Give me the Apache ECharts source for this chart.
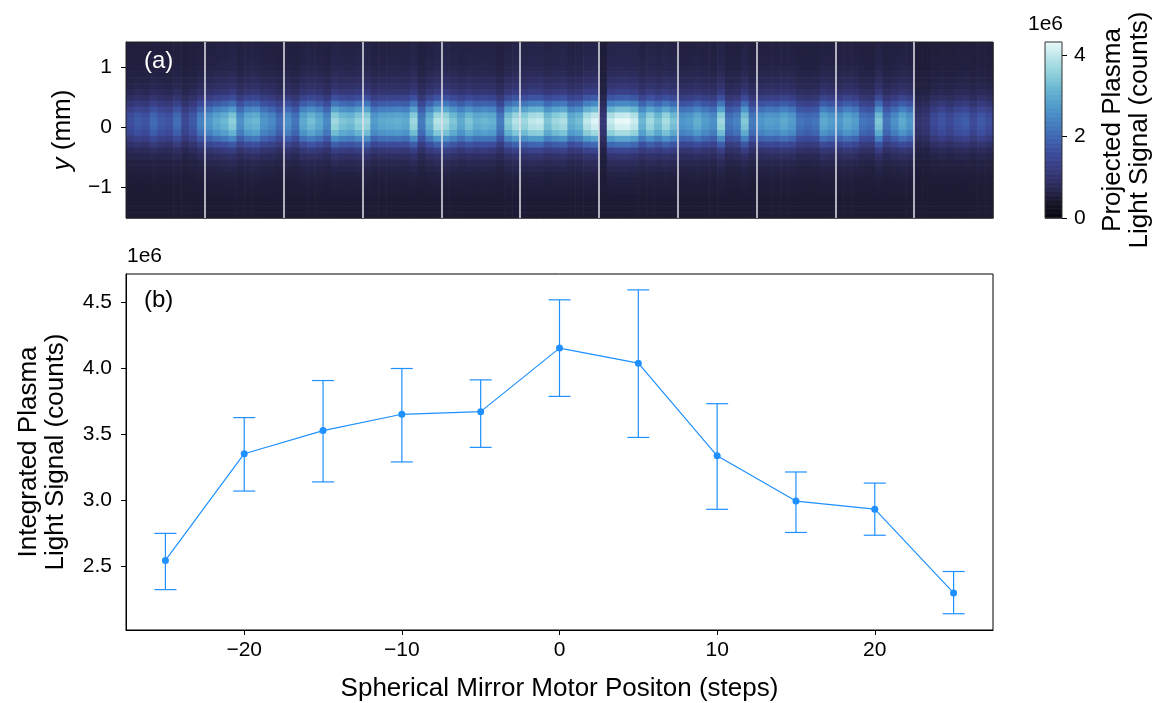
<!DOCTYPE html>
<html><head><meta charset="utf-8">
<script src="https://cdn.jsdelivr.net/npm/echarts@6/dist/echarts.min.js"></script>
<style>html,body{margin:0;padding:0;background:#fff}#c{width:1152px;height:703px}</style>
</head><body><div id="c"></div>
<script>
// ---------- data (signal values in units of 1e6 counts) ----------
const positions = [-25, -20, -15, -10, -5, 0, 5, 10, 15, 20, 25];
const signal    = [2.546, 3.352, 3.527, 3.650, 3.670, 4.150, 4.036, 3.336, 2.994, 2.933, 2.300];
const errLow    = [2.325, 3.070, 3.139, 3.290, 3.400, 3.785, 3.475, 2.932, 2.757, 2.736, 2.143];
const errHigh   = [2.750, 3.625, 3.905, 3.996, 3.910, 4.515, 4.590, 3.730, 3.214, 3.130, 2.462];
const xTicks = [-20, -10, 0, 10, 20];
const yTicks = [2.5, 3.0, 3.5, 4.0, 4.5];
const imgYTicks = [-1, 0, 1];
const cbarTicks = [0, 2, 4];

// projected image: peak value (centre row) of each image column, 10 columns per motor position
const colPeak = [
  [1.6, 1.8, 1.7, 2.05, 1.8, 1.7, 2.1, 1.5, 1.8, 2.4],
  [2.7, 3.0, 3.2, 3.55, 2.6, 3.1, 3.2, 2.7, 2.5, 2.1],
  [2.6, 2.2, 3.0, 3.3, 3.0, 2.5, 3.7, 3.4, 3.3, 3.6],
  [3.7, 2.8, 3.0, 3.05, 3.1, 3.0, 3.7, 2.3, 3.2, 3.9],
  [3.8, 3.4, 3.0, 3.4, 3.1, 3.2, 3.1, 2.3, 3.5, 3.9],
  [3.7, 4.0, 4.05, 3.4, 3.7, 3.85, 3.1, 3.3, 4.0, 4.25],
  [1.1, 4.05, 4.3, 4.32, 4.1, 3.2, 3.75, 3.35, 3.8, 3.4],
  [2.7, 2.8, 3.1, 2.8, 2.6, 3.7, 2.2, 2.4, 3.45, 2.3],
  [2.7, 2.85, 2.8, 3.0, 2.8, 2.2, 2.1, 2.2, 3.0, 2.8],
  [2.7, 3.0, 2.8, 2.2, 2.1, 3.4, 2.2, 2.6, 3.0, 2.7],
  [1.0, 1.1, 1.5, 1.7, 1.5, 1.75, 1.85, 1.55, 1.8, 1.6]
];
// vertical position of image rows (mm) and relative vertical profile of the light
const rowY = [1.371, 1.273, 1.175, 1.077, 0.979, 0.881, 0.783, 0.685, 0.587, 0.489, 0.391, 0.293, 0.195, 0.097, -0.001,
              -0.099, -0.197, -0.295, -0.393, -0.491, -0.589, -0.687, -0.785, -0.883, -0.981, -1.079, -1.177, -1.275, -1.373, -1.471];
const rowProfile = [0.05, 0.05, 0.055, 0.06, 0.07, 0.09, 0.12, 0.16, 0.22, 0.35, 0.53, 0.74, 0.93, 1.0, 0.96,
                    0.86, 0.64, 0.42, 0.25, 0.15, 0.09, 0.06, 0.04, 0.025, 0.015, 0.01, 0.0, 0.0, 0.0, 0.0];
const background = 0.5;
const cbarMax = 4.32;

// ---------- build ----------
const ROW_H = 0.098;
const nSeg = colPeak.length, perSeg = colPeak[0].length, nCols = nSeg * perSeg;
const heat = [];
colPeak.forEach((seg, s) => seg.forEach((pk, c) => {
  rowY.forEach((y, r) => heat.push([s * perSeg + c, y, background + (pk - background) * rowProfile[r]]));
}));
const cbarStep = 0.02, cbar = [];
for (let v = 0; v < cbarMax; v += cbarStep) cbar.push([0, v, v + cbarStep / 2]);
const segLines = [];
for (let s = 1; s < nSeg; s++) segLines.push({ xAxis: s * perSeg });

const FONT = "'Liberation Sans', Arial, sans-serif";
const TICK_FS = 21, NAME_FS = 26;
const minus = v => (v < 0 ? '\u2212' + (-v) : String(v));
const tickStyle = () => ({ show: true, length: 5, lineStyle: { color: '#000', width: 1 } });
const axLine = () => ({ show: true, onZero: false, lineStyle: { color: '#000', width: 1 } });
const lab = () => ({ color: '#000', fontSize: TICK_FS, fontFamily: FONT });
const nameSt = (extra) => Object.assign({ fontSize: NAME_FS, fontFamily: FONT, color: '#000' }, extra || {});
const blue = '#1e90ff';

const chart = echarts.init(document.getElementById('c'), null, { renderer: 'canvas' });
chart.setOption({
  animation: false,
  backgroundColor: '#fff',
  grid: [
    { left: 126, top: 42, width: 867, height: 176, show: true, borderColor: '#222', borderWidth: 1, backgroundColor: 'transparent', z: 5, outerBoundsMode: 'none', containLabel: false },
    { left: 1045, top: 42, width: 17, height: 176, show: true, borderColor: '#333', borderWidth: 1, backgroundColor: 'transparent', z: 5, outerBoundsMode: 'none', containLabel: false },
    { left: 126, top: 274, width: 867, height: 356, show: true, borderColor: '#000', borderWidth: 1, outerBoundsMode: 'none', containLabel: false }
  ],
  xAxis: [
    { gridIndex: 0, type: 'value', min: 0, max: nCols, axisLine: { show: false }, axisTick: { show: false }, axisLabel: { show: false }, splitLine: { show: false } },
    { gridIndex: 1, type: 'value', min: 0, max: 1, show: false },
    { gridIndex: 2, type: 'value', min: -27.5, max: 27.5, axisLine: axLine(),
      axisTick: Object.assign({ customValues: xTicks }, tickStyle()),
      axisLabel: Object.assign({ customValues: xTicks, formatter: minus, margin: 10 }, lab()),
      splitLine: { show: false },
      name: 'Spherical Mirror Motor Positon (steps)', nameLocation: 'middle', nameGap: 46,
      nameTextStyle: nameSt() }
  ],
  yAxis: [
    { gridIndex: 0, type: 'value', min: -1.52, max: 1.42, axisLine: axLine(),
      axisTick: Object.assign({ customValues: imgYTicks }, tickStyle()),
      axisLabel: Object.assign({ customValues: imgYTicks, formatter: minus, margin: 14 }, lab()),
      splitLine: { show: false },
      name: '{i|y} (mm)', nameLocation: 'middle', nameGap: 50, nameRotate: 90,
      nameTextStyle: nameSt({ rich: { i: { fontStyle: 'italic', fontSize: NAME_FS, fontFamily: FONT, color: '#000' } } }) },
    { gridIndex: 1, type: 'value', min: 0, max: cbarMax, position: 'right', axisLine: { show: false, onZero: false },
      axisTick: Object.assign({ customValues: cbarTicks }, tickStyle()),
      axisLabel: Object.assign({ customValues: cbarTicks, margin: 12 }, lab()),
      splitLine: { show: false },
      name: 'Projected Plasma\nLight Signal (counts)', nameLocation: 'middle', nameGap: 37, nameRotate: 90,
      nameTextStyle: nameSt({ lineHeight: 27 }) },
    { gridIndex: 2, type: 'value', min: 2.02, max: 4.71, axisLine: axLine(),
      axisTick: Object.assign({ customValues: yTicks }, tickStyle()),
      axisLabel: Object.assign({ customValues: yTicks, formatter: v => v.toFixed(1), margin: 14 }, lab()),
      splitLine: { show: false },
      name: 'Integrated Plasma\nLight Signal (counts)', nameLocation: 'middle', nameGap: 57, nameRotate: 90,
      nameTextStyle: nameSt({ lineHeight: 27 }) }
  ],
  visualMap: {
    type: 'continuous', show: false, min: 0, max: cbarMax, dimension: 2, seriesIndex: [0, 1],
    inRange: { color: ['#05060f', '#171628', '#2b2a58', '#373a7c', '#3c4b9a', '#3f64b0', '#4580c0', '#509acb', '#66b3d1', '#8ccfd9', '#b7e3e8', '#e8f8f9'] }
  },
  series: [
    { type: 'custom', xAxisIndex: 0, yAxisIndex: 0, data: heat, encode: { x: 0, y: 1 }, silent: true,
      renderItem: (p, api) => {
        const tl = api.coord([api.value(0), api.value(1) + ROW_H / 2]);
        const s = api.size([1, ROW_H]);
        return { type: 'rect', shape: { x: tl[0], y: tl[1], width: s[0] + 0.6, height: s[1] + 0.6 }, style: { fill: api.visual('color') } };
      } },
    { type: 'custom', xAxisIndex: 1, yAxisIndex: 1, data: cbar, encode: { x: 0, y: 1 }, silent: true,
      renderItem: (p, api) => {
        const tl = api.coord([0, api.value(1) + cbarStep]);
        const s = api.size([1, cbarStep]);
        return { type: 'rect', shape: { x: tl[0], y: tl[1], width: s[0], height: s[1] + 0.6 }, style: { fill: api.visual('color') } };
      } },
    { type: 'line', xAxisIndex: 0, yAxisIndex: 0, data: [], silent: true,
      markLine: { silent: true, symbol: 'none', label: { show: false }, data: segLines,
        lineStyle: { color: '#e2e2ea', width: 1.5, type: 'solid' } } },
    { type: 'custom', xAxisIndex: 2, yAxisIndex: 2, silent: true,
      data: positions.map((x, i) => [x, errLow[i], errHigh[i]]), encode: { x: 0, y: [1, 2] },
      renderItem: (p, api) => {
        const lo = api.coord([api.value(0), api.value(1)]);
        const hi = api.coord([api.value(0), api.value(2)]);
        const w = 11, st = { stroke: blue, lineWidth: 1.2 };
        return { type: 'group', children: [
          { type: 'line', shape: { x1: lo[0], y1: lo[1], x2: hi[0], y2: hi[1] }, style: st },
          { type: 'line', shape: { x1: lo[0] - w, y1: lo[1], x2: lo[0] + w, y2: lo[1] }, style: st },
          { type: 'line', shape: { x1: hi[0] - w, y1: hi[1], x2: hi[0] + w, y2: hi[1] }, style: st }
        ] };
      } },
    { type: 'line', xAxisIndex: 2, yAxisIndex: 2, data: positions.map((x, i) => [x, signal[i]]),
      symbol: 'circle', symbolSize: 7, showSymbol: true, z: 4,
      lineStyle: { color: blue, width: 1.2 }, itemStyle: { color: blue } }
  ],
  graphic: [
    { type: 'text', left: 144, top: 49, z: 100, style: { text: '(a)', fill: '#fff', fontSize: 24, fontFamily: FONT } },
    { type: 'text', left: 144, top: 288, z: 100, style: { text: '(b)', fill: '#000', fontSize: 24, fontFamily: FONT } },
    { type: 'text', left: 127, top: 246, style: { text: '1e6', fill: '#000', fontSize: TICK_FS, fontFamily: FONT } },
    { type: 'text', right: 1152 - 1063, top: 14, style: { text: '1e6', fill: '#000', fontSize: TICK_FS, fontFamily: FONT } }
  ]
});
</script></body></html>
